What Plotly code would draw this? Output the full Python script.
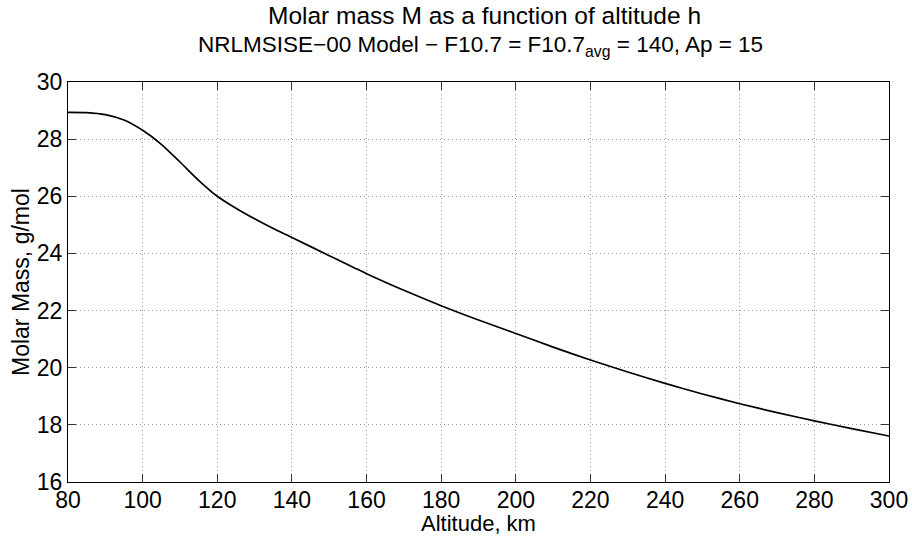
import plotly.graph_objects as go

altitude_km = [80, 85, 90, 95, 100, 105, 110, 115, 120, 125, 130, 135, 140, 150, 160, 170, 180, 190, 200,
               210, 220, 230, 240, 250, 260, 270, 280, 290, 300]
molar_mass = [28.94, 28.93, 28.86, 28.67, 28.31, 27.82, 27.20, 26.56, 26.00, 25.58, 25.21, 24.87, 24.56,
              23.92, 23.29, 22.71, 22.17, 21.67, 21.20, 20.72, 20.27, 19.85, 19.45, 19.08, 18.74,
              18.43, 18.14, 17.87, 17.61]

x_ticks = [80, 100, 120, 140, 160, 180, 200, 220, 240, 260, 280, 300]
y_ticks = [16, 18, 20, 22, 24, 26, 28, 30]

title_line1 = "Molar mass M as a function of altitude h"
title_line2 = "NRLMSISE\u221200 Model \u2212 F10.7 = F10.7<sub>avg</sub> = 140, Ap = 15"
x_title = "Altitude, km"
y_title = "Molar Mass, g/mol"

FONT = "Liberation Sans, Arial, Helvetica, sans-serif"

fig = go.Figure()
fig.add_trace(go.Scatter(x=altitude_km, y=molar_mass, mode="lines",
                         line=dict(color="black", width=1.7, shape="spline", smoothing=0.8),
                         showlegend=False, hoverinfo="x+y"))

axis_common = dict(showline=True, linecolor="black", linewidth=1.2, mirror="ticks",
                   ticks="inside", ticklen=8, tickwidth=1, tickcolor="#333",
                   showgrid=True, gridcolor="#9a9a9a", griddash="1px,3px", gridwidth=1,
                   zeroline=False, automargin=False,
                   tickfont=dict(size=23, color="black", family=FONT))

fig.update_layout(
    width=912, height=536,
    margin=dict(l=68, r=23, t=82, b=54),
    paper_bgcolor="white", plot_bgcolor="white",
    font=dict(family=FONT, color="black"),
    xaxis=dict(range=[80, 300], tickvals=x_ticks, ticktext=[str(v) for v in x_ticks],
               ticklabelstandoff=-3, **axis_common),
    yaxis=dict(range=[16, 30], tickvals=y_ticks, ticktext=[str(v) for v in y_ticks], **axis_common),
)

fig.add_annotation(text=title_line1, xref="paper", yref="paper", x=0.507, y=1 + (82 - 16) / 400,
                   xanchor="center", yanchor="middle", showarrow=False,
                   font=dict(size=24.5, family=FONT, color="black"))
fig.add_annotation(text=title_line2, xref="paper", yref="paper", x=0.503, y=1 + (82 - 46) / 400,
                   xanchor="center", yanchor="middle", showarrow=False,
                   font=dict(size=22.5, family=FONT, color="black"))
fig.add_annotation(text=x_title, xref="paper", yref="paper", x=0.5, y=(482 - 523) / 400,
                   xanchor="center", yanchor="middle", showarrow=False,
                   font=dict(size=22, family=FONT, color="black"))
fig.add_annotation(text=y_title, xref="paper", yref="paper", x=(21 - 68) / 821, y=0.5,
                   xanchor="center", yanchor="middle", showarrow=False, textangle=-90,
                   font=dict(size=23, family=FONT, color="black"))

fig.write_html("out.html")
